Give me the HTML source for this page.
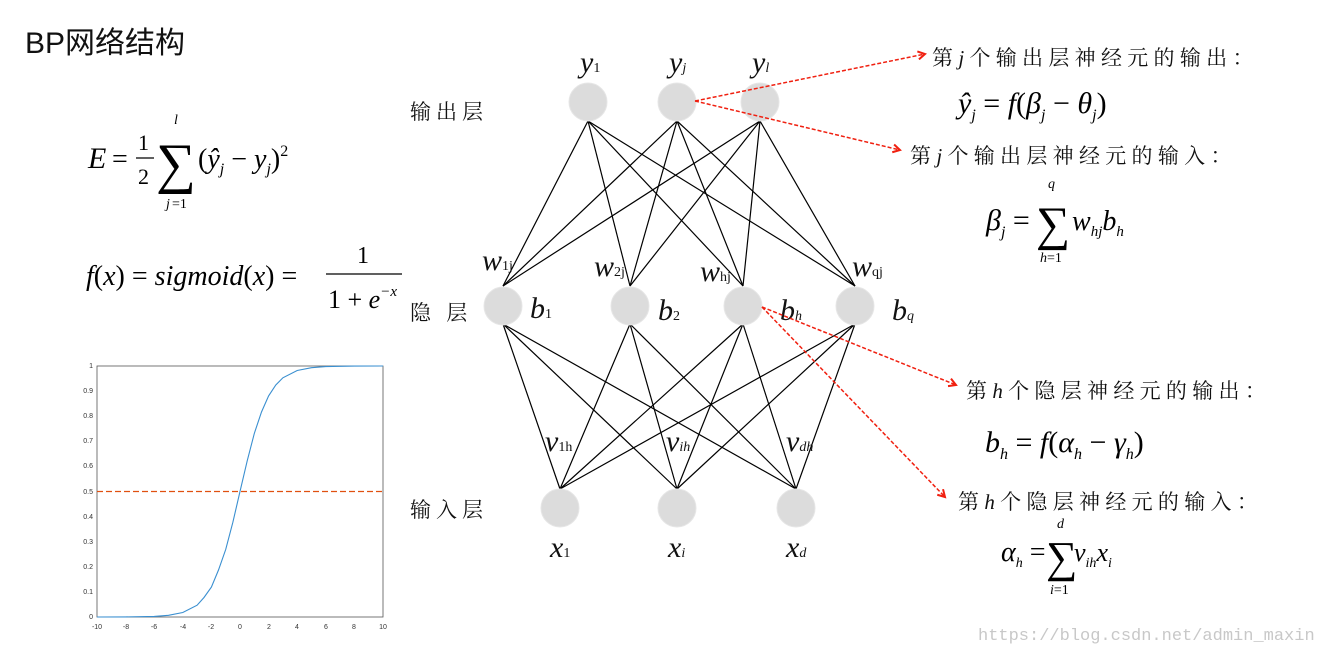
<!DOCTYPE html>
<html><head><meta charset="utf-8"><style>
html,body{margin:0;padding:0;background:#fff;}
svg{display:block;}
.cn{font-family:"Liberation Serif","Noto Serif CJK SC",serif;}
.it{font-family:"Liberation Serif",serif;font-style:italic;}
.rm{font-family:"Liberation Serif",serif;}
</style></head><body>
<svg width="1320" height="653" viewBox="0 0 1320 653" xmlns="http://www.w3.org/2000/svg">
<defs>
<marker id="ar" markerWidth="10" markerHeight="10" refX="8" refY="5" orient="auto" markerUnits="userSpaceOnUse">
<path d="M1,1 L8,5 L1,9" fill="none" stroke="#f02010" stroke-width="2"/>
</marker>
</defs>
<text x="25" y="53" font-family="Liberation Sans,'Noto Sans CJK SC',sans-serif" font-size="30" fill="#111">BP网络结构</text>

<!-- formula E -->
<text x="88" y="168" class="it" font-size="30">E</text>
<text x="112" y="168" class="rm" font-size="28">=</text>
<text x="138" y="150" class="rm" font-size="22">1</text>
<line x1="136" y1="158" x2="154" y2="158" stroke="#000" stroke-width="1.3"/>
<text x="138" y="184" class="rm" font-size="22">2</text>
<text x="156" y="182" class="rm" font-size="56">∑</text>
<text x="174" y="124" class="it" font-size="14">l</text>
<text x="166" y="208" class="it" font-size="14">j</text><text x="172" y="208" class="rm" font-size="14">=1</text>
<text x="198" y="168" class="it" font-size="28"><tspan font-style="normal">(</tspan>ŷ<tspan font-size="16" dy="6">j</tspan><tspan dy="-6" font-style="normal"> − </tspan>y<tspan font-size="16" dy="6">j</tspan><tspan dy="-6" font-style="normal">)</tspan><tspan font-style="normal" font-size="16" dy="-12">2</tspan></text>

<!-- f(x) -->
<text x="86" y="285" class="it" font-size="28">f<tspan font-style="normal">(</tspan>x<tspan font-style="normal">) = </tspan>sigmoid<tspan font-style="normal">(</tspan>x<tspan font-style="normal">) =</tspan></text>
<text x="357" y="263" class="rm" font-size="24">1</text>
<line x1="326" y1="274" x2="402" y2="274" stroke="#000" stroke-width="1.3"/>
<text x="328" y="308" class="rm" font-size="26">1 + <tspan font-style="italic">e</tspan><tspan font-size="15" dy="-12" font-style="italic">−x</tspan></text>

<!-- plot -->
<rect x="97" y="366" width="286" height="251" fill="none" stroke="#555" stroke-width="0.8"/>
<g font-family="Liberation Sans,sans-serif" font-size="7" fill="#333" text-anchor="end">
<text x="93" y="619">0</text><text x="93" y="594">0.1</text><text x="93" y="569">0.2</text><text x="93" y="544">0.3</text><text x="93" y="519">0.4</text><text x="93" y="494">0.5</text><text x="93" y="468">0.6</text><text x="93" y="443">0.7</text><text x="93" y="418">0.8</text><text x="93" y="393">0.9</text><text x="93" y="368">1</text>
</g>
<g font-family="Liberation Sans,sans-serif" font-size="7" fill="#333" text-anchor="middle">
<text x="97" y="629">-10</text><text x="126" y="629">-8</text><text x="154" y="629">-6</text><text x="183" y="629">-4</text><text x="211" y="629">-2</text><text x="240" y="629">0</text><text x="269" y="629">2</text><text x="297" y="629">4</text><text x="326" y="629">6</text><text x="354" y="629">8</text><text x="383" y="629">10</text>
</g>
<line x1="97" y1="491.5" x2="383" y2="491.5" stroke="#e05010" stroke-width="1.2" stroke-dasharray="6,3"/>
<polyline fill="none" stroke="#3a8fd0" stroke-width="1.1" points="97,617 125.6,616.9 154.2,616.4 168.5,615.3 182.8,612.5 197.1,605.2 204,597.5 211.4,587.1 218.5,570 225.7,549.5 232.9,522.1 240,491.5 247.2,460.9 254.3,433.5 261.5,412 268.6,395.9 275.8,385 282.9,377.8 297.2,370.5 311.5,367.7 325.8,366.6 354.4,366.1 383,366"/>

<!-- layer labels -->
<g class="cn" font-size="21" fill="#111" letter-spacing="5">
<text x="410" y="119">输出层</text>
<text x="410" y="320">隐 层</text>
<text x="410" y="517">输入层</text>
</g>

<!-- connections -->
<g stroke="#000" stroke-width="1.2">
<line x1="588" y1="121" x2="503" y2="286"/><line x1="588" y1="121" x2="630" y2="286"/><line x1="588" y1="121" x2="743" y2="286"/><line x1="588" y1="121" x2="855" y2="286"/>
<line x1="677" y1="121" x2="503" y2="286"/><line x1="677" y1="121" x2="630" y2="286"/><line x1="677" y1="121" x2="743" y2="286"/><line x1="677" y1="121" x2="855" y2="286"/>
<line x1="760" y1="121" x2="503" y2="286"/><line x1="760" y1="121" x2="630" y2="286"/><line x1="760" y1="121" x2="743" y2="286"/><line x1="760" y1="121" x2="855" y2="286"/>
<line x1="503" y1="324" x2="560" y2="489"/><line x1="503" y1="324" x2="677" y2="489"/><line x1="503" y1="324" x2="796" y2="489"/>
<line x1="630" y1="324" x2="560" y2="489"/><line x1="630" y1="324" x2="677" y2="489"/><line x1="630" y1="324" x2="796" y2="489"/>
<line x1="743" y1="324" x2="560" y2="489"/><line x1="743" y1="324" x2="677" y2="489"/><line x1="743" y1="324" x2="796" y2="489"/>
<line x1="855" y1="324" x2="560" y2="489"/><line x1="855" y1="324" x2="677" y2="489"/><line x1="855" y1="324" x2="796" y2="489"/>
</g>
<!-- nodes -->
<g fill="#dcdcdc" stroke="#e6e6e6" stroke-width="1">
<circle cx="588" cy="102" r="19"/><circle cx="677" cy="102" r="19"/><circle cx="760" cy="102" r="19"/>
<circle cx="503" cy="306" r="19"/><circle cx="630" cy="306" r="19"/><circle cx="743" cy="306" r="19"/><circle cx="855" cy="306" r="19"/>
<circle cx="560" cy="508" r="19"/><circle cx="677" cy="508" r="19"/><circle cx="796" cy="508" r="19"/>
</g>
<!-- node labels -->
<g class="it" font-size="30" fill="#111">
<text x="580" y="72">y<tspan font-size="14" font-style="normal">1</tspan></text>
<text x="669" y="72">y<tspan font-size="14">j</tspan></text>
<text x="752" y="72">y<tspan font-size="14">l</tspan></text>
<text x="482" y="270">w<tspan font-size="14" font-style="normal">1j</tspan></text>
<text x="594" y="276">w<tspan font-size="14" font-style="normal">2j</tspan></text>
<text x="700" y="281">w<tspan font-size="14" font-style="normal">hj</tspan></text>
<text x="852" y="276">w<tspan font-size="14" font-style="normal">qj</tspan></text>
<text x="530" y="318">b<tspan font-size="14" font-style="normal">1</tspan></text>
<text x="658" y="320">b<tspan font-size="14" font-style="normal">2</tspan></text>
<text x="780" y="320">b<tspan font-size="14">h</tspan></text>
<text x="892" y="320">b<tspan font-size="14">q</tspan></text>
<text x="545" y="451">v<tspan font-size="14" font-style="normal">1h</tspan></text>
<text x="666" y="451">v<tspan font-size="14">ih</tspan></text>
<text x="786" y="451">v<tspan font-size="14">dh</tspan></text>
<text x="550" y="557">x<tspan font-size="14" font-style="normal">1</tspan></text>
<text x="668" y="557">x<tspan font-size="14">i</tspan></text>
<text x="786" y="557">x<tspan font-size="14">d</tspan></text>
</g>

<!-- red arrows -->
<g stroke="#f02010" stroke-width="1.5" stroke-dasharray="4,2" fill="none">
<line x1="695" y1="101" x2="925" y2="54" marker-end="url(#ar)"/>
<line x1="695" y1="101" x2="900" y2="150" marker-end="url(#ar)"/>
<line x1="762" y1="307" x2="956" y2="385" marker-end="url(#ar)"/>
<line x1="762" y1="307" x2="945" y2="497" marker-end="url(#ar)"/>
</g>

<!-- right texts -->
<g class="cn" font-size="21" fill="#111" letter-spacing="5.3">
<text x="932" y="65">第<tspan class="it">j</tspan>个输出层神经元的输出：</text>
<text x="910" y="163">第<tspan class="it">j</tspan>个输出层神经元的输入：</text>
<text x="966" y="398">第<tspan class="it">h</tspan>个隐层神经元的输出：</text>
<text x="958" y="509">第<tspan class="it">h</tspan>个隐层神经元的输入：</text>
</g>
<text x="958" y="113" class="it" font-size="30">ŷ<tspan font-size="16" dy="7">j</tspan><tspan dy="-7" font-style="normal"> = </tspan>f<tspan font-style="normal">(</tspan>β<tspan font-size="16" dy="7">j</tspan><tspan dy="-7" font-style="normal"> − </tspan>θ<tspan font-size="16" dy="7">j</tspan><tspan dy="-7" font-style="normal">)</tspan></text>
<text x="986" y="230" class="it" font-size="30">β<tspan font-size="16" dy="7">j</tspan><tspan dy="-7" font-style="normal"> =</tspan></text>
<text x="1036" y="240" class="rm" font-size="48">∑</text>
<text x="1048" y="188" class="it" font-size="14">q</text>
<text x="1040" y="262" class="it" font-size="14">h<tspan font-style="normal">=1</tspan></text>
<text x="1072" y="230" class="it" font-size="28">w<tspan font-size="15" dy="6">hj</tspan><tspan dy="-6">b</tspan><tspan font-size="15" dy="6">h</tspan></text>
<text x="985" y="452" class="it" font-size="30">b<tspan font-size="16" dy="7">h</tspan><tspan dy="-7" font-style="normal"> = </tspan>f<tspan font-style="normal">(</tspan>α<tspan font-size="16" dy="7">h</tspan><tspan dy="-7" font-style="normal"> − </tspan>γ<tspan font-size="16" dy="7">h</tspan><tspan dy="-7" font-style="normal">)</tspan></text>
<text x="1001" y="561" class="it" font-size="28">α<tspan font-size="14" dy="6">h</tspan><tspan dy="-6" font-style="normal"> =</tspan></text>
<text x="1046" y="572" class="rm" font-size="44">∑</text>
<text x="1057" y="528" class="it" font-size="14">d</text>
<text x="1050" y="594" class="it" font-size="14">i<tspan font-style="normal">=1</tspan></text>
<text x="1074" y="561" class="it" font-size="26">v<tspan font-size="14" dy="6">ih</tspan><tspan dy="-6">x</tspan><tspan font-size="14" dy="6">i</tspan></text>

<text x="978" y="640" font-family="Liberation Mono,monospace" font-size="17" fill="#c8c8c8">https://blog.csdn.net/admin_maxin</text>
</svg>
</body></html>
